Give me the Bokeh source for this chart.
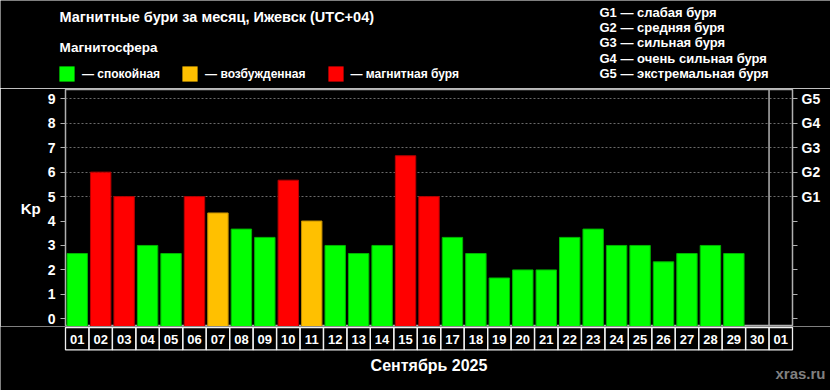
from bokeh.plotting import figure
from bokeh.layouts import column
from bokeh.models import (ColumnDataSource, FixedTicker, LinearAxis, Legend,
                          LegendItem, Range1d)
from bokeh.core.properties import value
from bokeh.embed import file_html
from bokeh.resources import INLINE

# ---------------- data ----------------
days = ["01", "02", "03", "04", "05", "06", "07", "08", "09", "10",
        "11", "12", "13", "14", "15", "16", "17", "18", "19", "20",
        "21", "22", "23", "24", "25", "26", "27", "28", "29", "30", "01"]
kp = [2.67, 6.0, 5.0, 3.0, 2.67, 5.0, 4.33, 3.67, 3.33, 5.67,
      4.0, 3.0, 2.67, 3.0, 6.67, 5.0, 3.33, 2.67, 1.67, 2.0,
      2.0, 3.33, 3.67, 3.0, 3.0, 2.33, 2.67, 3.0, 2.67]
status = ["q", "s", "s", "q", "q", "s", "a", "q", "q", "s",
          "a", "q", "q", "q", "s", "s", "q", "q", "q", "q",
          "q", "q", "q", "q", "q", "q", "q", "q", "q"]
status_order = ["q", "a", "s"]
status_labels = {"q": "— спокойная", "a": "— возбужденная", "s": "— магнитная буря"}
status_fill = {"q": "#00ff00", "a": "#ffc000", "s": "#ff0000"}
status_line = {"q": "#00b400", "a": "#c08c00", "s": "#b40000"}
kp_ticks = [0, 1, 2, 3, 4, 5, 6, 7, 8, 9]
g_ticks = [5, 6, 7, 8, 9]
g_labels = ["G1", "G2", "G3", "G4", "G5"]
g_legend = ["G1 — слабая буря", "G2 — средняя буря", "G3 — сильная буря",
            "G4 — очень сильная буря", "G5 — экстремальная буря"]
month_label = "Сентябрь 2025"
days_in_month = 30
title_text = "Магнитные бури за месяц, Ижевск (UTC+04)"
legend_title = "Магнитосфера"
credit = "xras.ru"

FONT = "Liberation Sans"
W = 830
H_HEAD, H_MAIN, H_FOOT = 88, 238, 64
LEFT, RIGHT = 65, 38

def bare(fig):
    fig.axis.visible = False
    fig.grid.visible = False
    fig.title.visible = False
    return fig

# ---------------- header ----------------
head = bare(figure(width=W, height=H_HEAD, output_backend="svg", toolbar_location=None,
                   x_range=Range1d(0, W), y_range=Range1d(H_HEAD, 0),
                   background_fill_color="black", border_fill_color="black",
                   min_border=0, outline_line_color=None, frame_align=False))
head.text(x=[59], y=[24], text=[title_text], text_color="white",
          text_font=value(FONT), text_font_style="bold", text_font_size="14.5px")
head.text(x=[59], y=[54], text=[legend_title], text_color="white",
          text_font=value(FONT), text_font_style="bold", text_font_size="13.5px")
g_src = ColumnDataSource(dict(x=[599] * len(g_legend), y=[19, 34.4, 49.8, 65.3, 80.7],
                              t=g_legend))
head.text(x="x", y="y", text="t", source=g_src, text_color="white",
          text_font=value(FONT), text_font_style="bold", text_font_size="13px")
items = []
for key in status_order:
    # zero-size swatch renderer: only provides the legend colour
    r = head.vbar(x=[0], top=[0], bottom=0, width=0, fill_color=status_fill[key],
                  line_color=status_fill[key], line_alpha=0)
    items.append(LegendItem(label=status_labels[key], renderers=[r]))
leg = Legend(items=items, orientation="horizontal", location=(57, 5),
             glyph_width=19, glyph_height=19, label_height=19, label_standoff=6,
             spacing=20, padding=0, margin=0, background_fill_alpha=0,
             border_line_color=None, label_text_color="white", label_text_font=FONT,
             label_text_font_style="bold", label_text_font_size="12px")
head.add_layout(leg)

# ---------------- main chart ----------------
n_slots = len(days)
y_lo, y_hi = -0.315, 9.38
p = figure(width=W, height=H_MAIN, output_backend="svg", toolbar_location=None,
           x_range=Range1d(-0.5, n_slots - 0.5), y_range=Range1d(y_lo, y_hi),
           background_fill_color="black", border_fill_color="black",
           min_border_left=LEFT, min_border_right=RIGHT, min_border_top=1,
           min_border_bottom=0, outline_line_color="#b0b0b0", outline_line_width=1.5,
           frame_align=False)
p.title.visible = False
p.xaxis.visible = False
p.xgrid.visible = False
p.ygrid.ticker = FixedTicker(ticks=g_ticks)
p.ygrid.grid_line_color = "#6a6a6a"
p.ygrid.grid_line_dash = "2 2"

ya = p.yaxis[0]
ya.ticker = FixedTicker(ticks=kp_ticks)
ya.axis_line_color = None
ya.major_tick_line_color = "#b0b0b0"
ya.major_tick_out = 5
ya.major_tick_in = 0
ya.minor_tick_line_color = None
ya.major_label_standoff = 5
ya.major_label_text_color = "white"
ya.major_label_text_font = FONT
ya.major_label_text_font_style = "bold"
ya.major_label_text_font_size = "14px"
ya.axis_label = "Kp"
ya.axis_label_orientation = "horizontal"
ya.axis_label_standoff = 4
ya.axis_label_text_color = "white"
ya.axis_label_text_font = FONT
ya.axis_label_text_font_style = "bold"
ya.axis_label_text_font_size = "15px"

ra = LinearAxis(ticker=FixedTicker(ticks=kp_ticks),
                major_label_overrides={t: (g_labels[g_ticks.index(t)] if t in g_ticks else "")
                                       for t in kp_ticks})
ra.axis_line_color = None
ra.major_tick_line_color = "#b0b0b0"
ra.major_tick_out = 5
ra.major_tick_in = 0
ra.minor_tick_line_color = None
ra.major_label_standoff = 4
ra.major_label_text_color = "white"
ra.major_label_text_font = FONT
ra.major_label_text_font_style = "bold"
ra.major_label_text_font_size = "14px"
p.add_layout(ra, "right")

src = ColumnDataSource(dict(x=list(range(len(kp))), top=kp,
                            fill=[status_fill[s] for s in status],
                            line=[status_line[s] for s in status]))
p.vbar(x="x", top="top", bottom=y_lo, width=0.87, source=src,
       fill_color="fill", line_color="line", line_width=1)
p.segment(x0=[days_in_month - 0.5], y0=[y_lo], x1=[days_in_month - 0.5], y1=[y_hi],
          line_color="#b0b0b0", line_width=1.5)

# ---------------- footer: day cells + month ----------------
slot = (W - LEFT - RIGHT) / n_slots
fx0 = -0.5 - LEFT / slot
fx1 = n_slots - 0.5 + RIGHT / slot
foot = bare(figure(width=W, height=H_FOOT, output_backend="svg", toolbar_location=None,
                   x_range=Range1d(fx0, fx1), y_range=Range1d(H_FOOT, 0),
                   background_fill_color="black", border_fill_color="black",
                   min_border=0, outline_line_color=None, frame_align=False))
cx = list(range(n_slots))
cells = ColumnDataSource(dict(left=[i - 0.5 for i in cx], right=[i + 0.5 for i in cx],
                              x=cx, lab=days))
foot.quad(left="left", right="right", top=1, bottom=23.3, source=cells,
          fill_color=None, line_color="#f0f0f0", line_width=1.3)
foot.text(x="x", y=12.5, text="lab", source=cells, text_align="center",
          text_baseline="middle", text_color="white", text_font=value(FONT),
          text_font_style="bold", text_font_size="13px")
foot.text(x=[(n_slots - 1) / 2], y=[47.3], text=[month_label], text_align="center",
          text_color="white", text_font=value(FONT), text_font_style="bold",
          text_font_size="16px")
foot.text(x=[fx1 - 5 / slot], y=[55.5], text=[credit], text_align="right",
          text_color="#808080", text_font=value(FONT), text_font_style="bold",
          text_font_size="15px")

layout = column(head, p, foot, spacing=0)
open("out.html", "w").write(file_html(layout, INLINE))
